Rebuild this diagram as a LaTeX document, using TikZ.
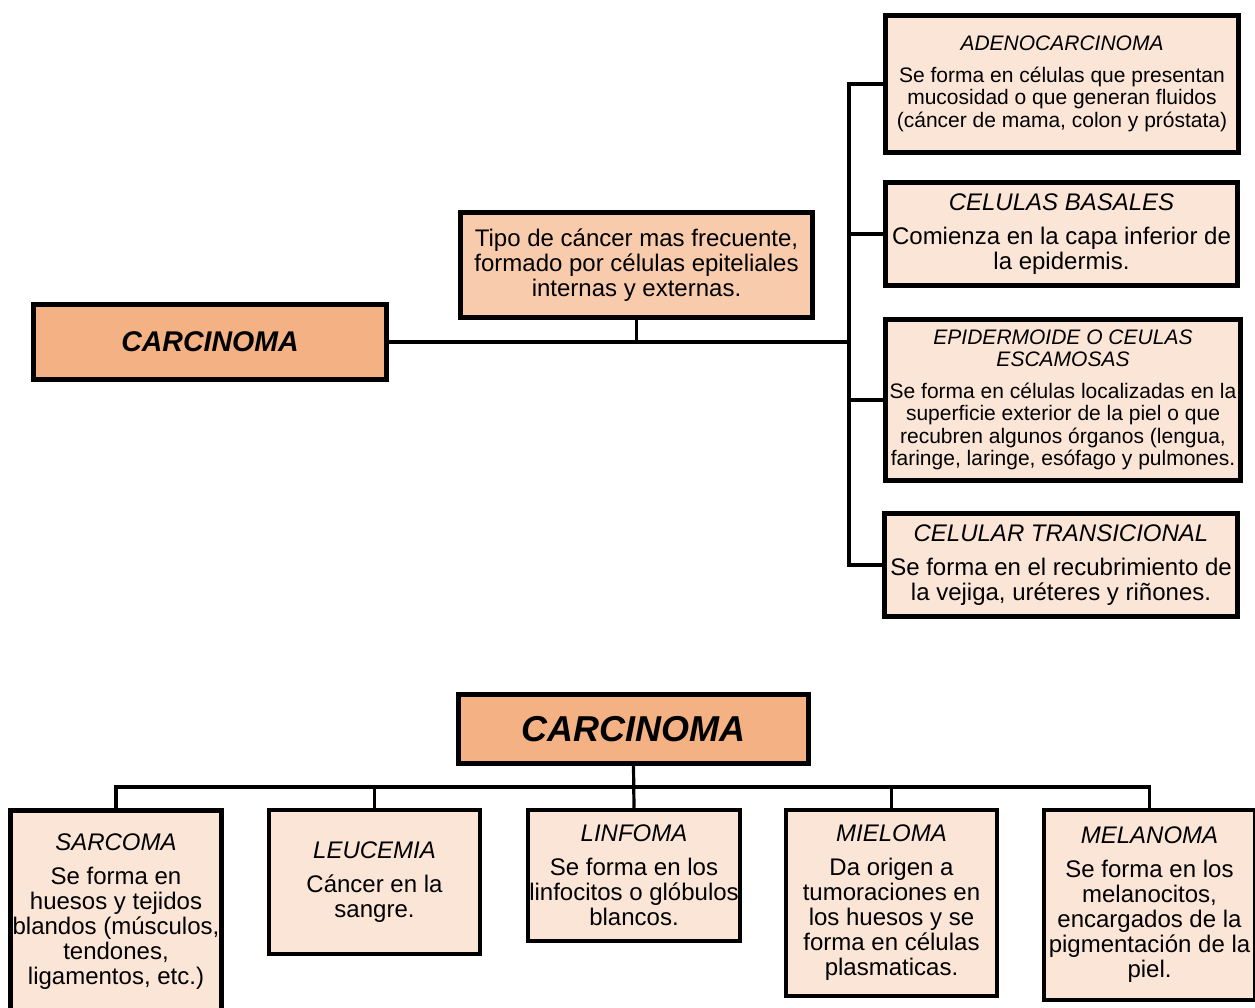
\documentclass[tikz,border=0pt]{standalone}
\usepackage{fontspec}
\setmainfont{Liberation Sans}
\definecolor{cdark}{HTML}{F4B183}
\definecolor{cmid}{HTML}{F8CBAD}
\definecolor{clight}{HTML}{FBE5D6}
\tikzset{
  box/.style={draw=black, line width=4.5pt, inner sep=0pt, align=center, rectangle},
  darkbox/.style={box, fill=cdark},
  midbox/.style={box, fill=cmid},
  lightbox/.style={box, fill=clight},
  fbig/.style={font=\fontsize{24}{25}\selectfont},
  fsmall/.style={font=\fontsize{21}{22.5}\selectfont},
  conn/.style={draw=black, line width=3.2pt},
}
\begin{document}
\begin{tikzpicture}[x=1pt,y=-1pt]
\useasboundingbox (0,0) rectangle (1255,1007);
% connectors first so that boxes sit on top
\coordinate (tj) at (849,342);
\coordinate (bj) at (633.5,787);
% top part
\node[darkbox, minimum width=353pt, minimum height=75pt, font=\fontsize{28.5}{30}\selectfont\bfseries\itshape] (lcar) at (210,342) {CARCINOMA};
\node[midbox, fbig, minimum width=352pt, minimum height=105pt] (desc) at (636.5,265)
  {Tipo de cáncer mas frecuente,\\formado por células epiteliales\\internas y externas.};
\node[lightbox, fsmall, minimum width=353pt, minimum height=137pt] (adeno) at (1062,84)
  {\itshape ADENOCARCINOMA\\[9pt]Se forma en células que presentan\\mucosidad o que generan fluidos\\(cáncer de mama, colon y próstata)};
\node[lightbox, fbig, minimum width=352pt, minimum height=103pt] (basal) at (1061.5,234)
  {\itshape CELULAS BASALES\\[9pt]Comienza en la capa inferior de\\la epidermis.};
\node[lightbox, fsmall, minimum width=355pt, minimum height=161pt] (epid) at (1063,400)
  {\itshape EPIDERMOIDE O CEULAS\\\itshape ESCAMOSAS\\[9pt]Se forma en células localizadas en la\\superficie exterior de la piel o que\\recubren algunos órganos (lengua,\\faringe, laringe, esófago y pulmones.};
\node[lightbox, fbig, minimum width=353pt, minimum height=103pt] (trans) at (1061,565)
  {\itshape CELULAR TRANSICIONAL\\[9pt]Se forma en el recubrimiento de\\la vejiga, uréteres y riñones.};
\draw[conn] (lcar.east) -- (tj);
\draw[conn] (desc.south) -- (desc.south |- tj);
\draw[conn] (adeno.west) -| (tj);
\draw[conn] (trans.west) -| (tj);
\draw[conn] (basal.west) -- (basal.west -| tj);
\draw[conn] (epid.west) -- (epid.west -| tj);
% bottom part
\node[darkbox, minimum width=350pt, minimum height=69pt, font=\fontsize{36}{38}\selectfont\bfseries\itshape] (bcar) at (633.5,729) {CARCINOMA};
\node[lightbox, fbig, minimum width=211pt, minimum height=203.5pt] (sarc) at (116,912)
  {\itshape SARCOMA\\[9pt]Se forma en\\huesos y tejidos\\blandos (músculos,\\tendones,\\ligamentos, etc.)};
\node[lightbox, fbig, minimum width=211pt, minimum height=144pt] (leuc) at (374.5,882)
  {\itshape LEUCEMIA\\[9pt]Cáncer en la\\sangre.};
\node[lightbox, fbig, minimum width=212pt, minimum height=131pt] (linf) at (634,875.5)
  {\itshape LINFOMA\\[9pt]Se forma en los\\linfocitos o glóbulos\\blancos.};
\node[lightbox, fbig, minimum width=211pt, minimum height=186pt] (miel) at (891.5,903)
  {\itshape MIELOMA\\[9pt]Da origen a\\tumoraciones en\\los huesos y se\\forma en células\\plasmaticas.};
\node[lightbox, fbig, minimum width=211pt, minimum height=190pt] (mela) at (1149.5,905)
  {\itshape MELANOMA\\[9pt]Se forma en los\\melanocitos,\\encargados de la\\pigmentación de la\\piel.};
\draw[conn] (bcar.south) -- (linf.north);
\draw[conn] (sarc.north) -- (sarc.north |- bj) -- (mela.north |- bj) -- (mela.north);
\draw[conn] (leuc.north) -- (leuc.north |- bj);
\draw[conn] (miel.north) -- (miel.north |- bj);
\end{tikzpicture}
\end{document}
